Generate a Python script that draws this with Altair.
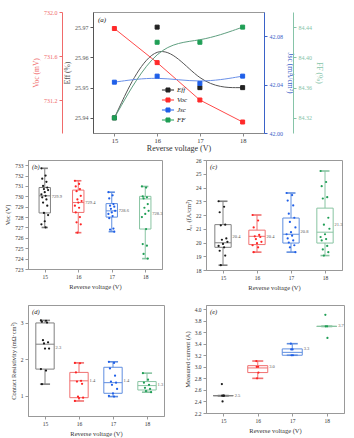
import altair as alt
import pandas as pd

FONT = "Liberation Serif"

# ---------------- panel (a) data ----------------
voltage = [15, 16, 17, 18]
eff_pct = [25.94, 25.97, 25.95, 25.95]
voc_mv = [731.85, 731.54, 731.20, 731.00]
jsc_ma = [42.042, 42.047, 42.041, 42.047]
ff_pct = [84.32, 84.42, 84.42, 84.44]
series_names = ["Eff", "Voc", "Jsc", "FF"]

# ---------------- panel (b) Voc (V) ----------------
b_vals = [
    [732.7, 732.0, 731.7, 731.4, 731.0, 730.85, 730.7, 730.6, 730.4, 730.2, 730.05, 729.9, 729.7, 729.4, 729.1, 728.4, 728.2, 727.6, 727.3, 727.0],
    [731.5, 731.2, 730.95, 730.7, 730.5, 730.05, 729.7, 729.55, 729.4, 729.1, 728.9, 728.45, 728.0, 727.5, 727.3, 726.5],
    [730.4, 730.1, 729.8, 729.25, 729.1, 729.0, 728.8, 728.6, 728.45, 728.3, 728.1, 727.9, 726.9, 726.8, 726.6],
    [730.95, 730.85, 730.0, 729.9, 729.8, 729.25, 728.9, 728.6, 728.3, 728.0, 726.85, 725.4, 725.25, 724.45, 724.0],
]
b_q1 = [728.4, 728.45, 728.0, 726.85]
b_med = [730.05, 729.4, 728.6, 729.75]
b_q3 = [730.85, 730.6, 729.3, 730.0]
b_lo = [727.0, 726.5, 726.6, 724.0]
b_hi = [732.7, 731.5, 730.4, 730.95]
b_mean = [729.9, 729.4, 728.6, 728.3]

# ---------------- panel (c) J01 ----------------
c_vals = [
    [23.0, 22.6, 22.2, 21.3, 21.25, 20.3, 20.2, 20.05, 19.9, 19.75, 19.65, 19.4, 19.05, 18.35],
    [22.0, 21.6, 21.1, 20.55, 20.45, 20.4, 20.25, 20.05, 19.95, 19.8, 19.65, 19.3],
    [23.6, 23.45, 23.05, 22.7, 22.1, 21.8, 21.5, 21.1, 20.75, 20.6, 20.5, 20.3, 20.15, 20.0, 19.8, 19.65, 19.3],
    [25.2, 24.4, 24.1, 23.3, 23.2, 21.8, 21.3, 21.0, 20.6, 20.4, 20.25, 20.15, 19.75, 19.5, 19.3, 19.05],
]
c_q1 = [19.65, 19.85, 19.96, 19.96]
c_med = [19.98, 20.45, 20.6, 20.75]
c_q3 = [21.3, 20.9, 21.78, 22.5]
c_lo = [18.35, 19.3, 19.3, 19.05]
c_hi = [23.0, 22.0, 23.6, 25.2]
c_mean = [20.4, 20.4, 20.8, 21.3]

# ---------------- panel (d) contact resistivity ----------------
d_vals = [
    [3.06, 3.05, 3.02, 3.0, 2.52, 2.46, 2.43, 2.29, 2.29, 1.73, 1.69, 1.32],
    [1.9, 1.89, 1.64, 1.41, 1.39, 1.33, 0.98, 0.95, 0.94, 0.86],
    [1.93, 1.9, 1.75, 1.55, 1.39, 1.36, 1.3, 1.19, 1.07, 1.0, 0.98],
    [1.62, 1.44, 1.36, 1.3, 1.22, 1.19, 1.13, 1.1],
]
d_q1 = [1.73, 0.95, 1.07, 1.16]
d_med = [2.41, 1.41, 1.36, 1.28]
d_q3 = [2.99, 1.64, 1.78, 1.39]
d_lo = [1.32, 0.86, 0.98, 1.10]
d_hi = [3.06, 1.9, 1.93, 1.62]
d_mean = [2.3, 1.4, 1.4, 1.3]

# ---------------- panel (e) measured current ----------------
e_vals = [
    [2.7, 2.5, 2.5, 2.5, 2.4],
    [3.1, 3.0, 3.0, 2.9, 2.8],
    [3.4, 3.3, 3.3, 3.2, 3.2],
    [3.9, 3.7, 3.7, 3.5],
]
e_q1 = [2.5, 2.9, 3.2, 3.7]
e_med = [2.5, 2.98, 3.25, 3.7]
e_q3 = [2.5, 3.02, 3.31, 3.7]
e_lo = [2.5, 2.8, 3.2, 3.7]
e_hi = [2.5, 3.1, 3.4, 3.7]
e_mean = [2.5, 3.0, 3.3, 3.7]

# ---------------- styles ----------------
PT_COL = {15: "#1a1a1a", 16: "#ff2424", 17: "#1f5fe8", 18: "#1f9e55"}
BOX_COL = {15: "#808080", 16: "#f07070", 17: "#5f8ee0", 18: "#88c4a2"}

A_PT = ["#222222", "#ff2a2a", "#1f5fe8", "#1f9e55"]
A_LINE = ["#555555", "#ff4a4a", "#6a90e8", "#5f9f80"]
A_AX = ["#555555", "#f06a6a", "#3a62c8", "#86c4a8"]

XDOM = [14.5, 18.5]

# ---------------- panel (a) ----------------
pt_scale = alt.Scale(domain=series_names, range=A_PT)
leg = alt.Legend(
    orient="none", legendX=135, legendY=73, title=None,
    symbolType="M-1.35,0H1.35M-0.45,-0.45H0.45V0.45H-0.45Z",
    symbolSize=80, symbolStrokeWidth=1,
    labelFont=FONT, labelFontStyle="italic", labelFontSize=7, labelFontWeight="normal", labelColor="#222",
    rowPadding=0, labelOffset=4, padding=0,
)
xax_a = alt.Axis(values=voltage, format="d", title="Reverse voltage (V)", titleFontSize=8,
                 labelFontSize=6.5, domainColor="#888", tickColor="#888", labelPadding=1, titlePadding=1)


def a_layer(name, vals, dom, ticks, fmt, title, axcol, orient, offset, lcol, interp):
    df = pd.DataFrame({"v": voltage, "val": vals, "s": [name] * len(vals)})
    x = alt.X("v:Q", scale=alt.Scale(domain=XDOM, nice=False), axis=xax_a)
    y = alt.Y("val:Q", scale=alt.Scale(domain=dom, nice=False, zero=False),
              axis=alt.Axis(orient=orient, offset=offset, values=ticks, format=fmt, title=title,
                            domainColor=axcol, tickColor=axcol, labelColor=axcol, titleColor=axcol,
                            labelFontSize=6, titleFontSize=7.5, titlePadding=3))
    base = alt.Chart(df).encode(x=x, y=y)
    line = base.mark_line(interpolate=interp, color=lcol, strokeWidth=1)
    pts = base.mark_point(shape="square", filled=True, size=16, opacity=1, strokeWidth=1).encode(
        fill=alt.Fill("s:N", scale=pt_scale, legend=leg),
        stroke=alt.Stroke("s:N", scale=pt_scale, legend=leg),
    )
    return alt.layer(line, pts)


la_eff = a_layer("Eff", eff_pct, [25.935, 25.975], [25.94, 25.95, 25.96, 25.97], ".2f", "Eff (%)",
                 A_AX[0], "left", 0, A_LINE[0], "basis")
la_voc = a_layer("Voc", voc_mv, [730.9, 732.0], [731.2, 731.6, 732.0], ".1f", "Voc (mV)",
                 A_AX[1], "left", 31, A_LINE[1], "linear")
la_jsc = a_layer("Jsc", jsc_ma, [42.0, 42.1], [42.00, 42.04, 42.08], ".2f", "Jsc (mA/cm²)",
                 A_AX[2], "right", 0, A_LINE[2], "basis")
la_ff = a_layer("FF", ff_pct, [84.30, 84.46], [84.32, 84.36, 84.40, 84.44], ".2f", "FF (%)",
                A_AX[3], "right", 29, A_LINE[3], "basis")
tag_a = alt.Chart(pd.DataFrame({"t": ["(a)"]})).mark_text(
    font=FONT, fontStyle="italic", fontSize=7, align="left", baseline="top", color="#222"
).encode(x=alt.value(5), y=alt.value(4), text="t:N")

chart_a = alt.layer(la_eff, la_voc, la_jsc, la_ff, tag_a).resolve_scale(y="independent").properties(
    width=171, height=121)

spacer = alt.Chart(pd.DataFrame({"z": [0]})).mark_point(opacity=0).encode(
    x=alt.value(0), y=alt.value(0)
).properties(width=2, height=10, view=alt.ViewBackground(stroke="transparent"))

row_a = alt.hconcat(spacer, chart_a, spacing=0)


# ---------------- box panels ----------------
def box_panel(tag, lists, q1, med, q3, lo, hi, means, ydom, yticks, yfmt, ytitle, hw, jit, w, h):
    prow = []
    for g, vals in zip(voltage, lists):
        for i, v in enumerate(vals):
            prow.append({"g": g, "val": v, "i": i, "pc": PT_COL[g]})
    pdf = pd.DataFrame(prow)
    sdf = pd.DataFrame({"g": voltage, "q1": q1, "med": med, "q3": q3, "lo": lo, "hi": hi,
                        "mean": means, "bc": [BOX_COL[g] for g in voltage]})
    xs = alt.Scale(domain=XDOM, nice=False)
    ys = alt.Scale(domain=ydom, nice=False, zero=False)
    xax = alt.Axis(values=voltage, format="d", title="Reverse voltage (V)")
    yax = alt.Axis(values=yticks, format=yfmt, title=ytitle)

    def X(f):
        return alt.X(f, scale=xs, axis=xax)

    def Y(f):
        return alt.Y(f, scale=ys, axis=yax)

    col = alt.Color("bc:N", scale=None)
    sb = alt.Chart(sdf).transform_calculate(
        xl=f"datum.g - {hw}", xr=f"datum.g + {hw}",
        cl=f"datum.g - {hw * 0.55}", cr=f"datum.g + {hw * 0.55}",
        xt=f"datum.g + {hw + 0.04}",
    )
    wl = sb.mark_rule(strokeWidth=1).encode(x=X("g:Q"), y=Y("lo:Q"), y2="q1:Q", color=col)
    wh = sb.mark_rule(strokeWidth=1).encode(x=X("g:Q"), y=Y("q3:Q"), y2="hi:Q", color=col)
    clo = sb.mark_rule(strokeWidth=1.6).encode(x=X("cl:Q"), x2="cr:Q", y=Y("lo:Q"), color=col)
    chi = sb.mark_rule(strokeWidth=1.6).encode(x=X("cl:Q"), x2="cr:Q", y=Y("hi:Q"), color=col)
    box = sb.mark_rect(fillOpacity=0, strokeWidth=1).encode(
        x=X("xl:Q"), x2="xr:Q", y=Y("q1:Q"), y2="q3:Q", stroke=alt.Stroke("bc:N", scale=None))
    medl = sb.mark_rule(strokeWidth=1).encode(x=X("xl:Q"), x2="xr:Q", y=Y("med:Q"), color=col)
    lab = sb.mark_text(align="left", baseline="middle", fontSize=4.5, font=FONT, color="#555").encode(
        x=X("xt:Q"), y=Y("mean:Q"), text=alt.Text("mean:Q", format=".1f"))
    pts = alt.Chart(pdf).transform_calculate(
        xj=f"datum.g + ((datum.i * 5) % 9 - 4) / 4 * {jit}"
    ).mark_circle(size=5, opacity=1).encode(x=X("xj:Q"), y=Y("val:Q"), color=alt.Color("pc:N", scale=None))
    tg = alt.Chart(pd.DataFrame({"t": [tag]})).mark_text(
        font=FONT, fontStyle="italic", fontSize=6.5, align="left", baseline="top", color="#222"
    ).encode(x=alt.value(4), y=alt.value(4), text="t:N")
    return alt.layer(wl, wh, clo, chi, box, medl, pts, lab, tg).properties(width=w, height=h)


chart_b = box_panel("(b)", b_vals, b_q1, b_med, b_q3, b_lo, b_hi, b_mean,
                    [723, 733.5], list(range(723, 734)), "d", "Voc (V)", 0.17, 0.1, 134, 109)
chart_c = box_panel("(c)", c_vals, c_q1, c_med, c_q3, c_lo, c_hi, c_mean,
                    [18, 26], list(range(18, 27)), "d", "J₀₁ (fA/cm²)", 0.24, 0.13, 136, 110)
chart_d = box_panel("(d)", d_vals, d_q1, d_med, d_q3, d_lo, d_hi, d_mean,
                    [0.45, 3.48], [1, 2, 3], "d", "Contact Resistivity (mΩ·cm²)", 0.27, 0.12, 136, 111)
chart_e = box_panel("(e)", e_vals, e_q1, e_med, e_q3, e_lo, e_hi, e_mean,
                    [2.2, 4.07], [2.2, 2.4, 2.6, 2.8, 3.0, 3.2, 3.4, 3.6, 3.8, 4.0], ".1f",
                    "Measured current (A)", 0.29, 0.04, 138, 108)

grid = alt.concat(chart_b, chart_c, chart_d, chart_e, columns=2,
                  spacing=alt.RowColnumber(row=12, column=18))

chart = alt.vconcat(row_a, grid, spacing=4).properties(
    padding={"left": 4, "top": 8, "right": 4, "bottom": 0},
    background="white",
).configure_view(stroke="#999", strokeWidth=1).configure_axis(
    labelFont=FONT, titleFont=FONT, labelFontSize=5.5, titleFontSize=6.5, titleFontWeight="normal",
    grid=False, tickSize=3, labelColor="#333", titleColor="#333", domainColor="#999", tickColor="#999",
    titlePadding=4, labelPadding=2,
)

chart.save("out.html", embed_options={"renderer": "svg", "actions": False})
